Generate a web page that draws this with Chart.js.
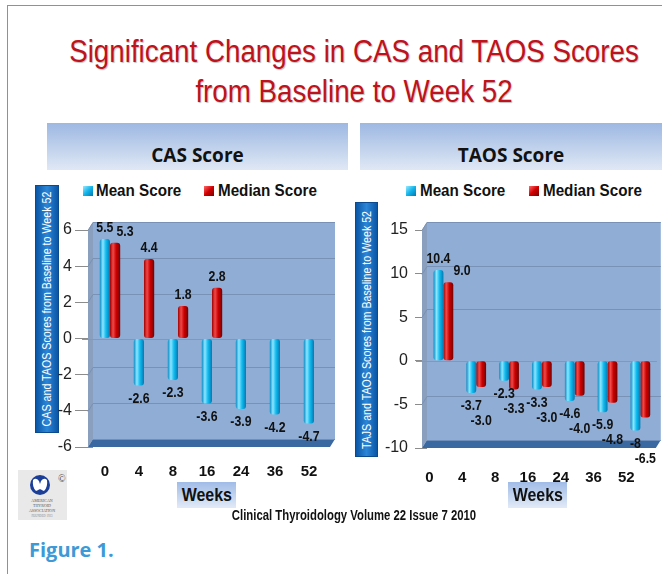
<!DOCTYPE html>
<html>
<head>
<meta charset="utf-8">
<script src="https://cdn.jsdelivr.net/npm/chart.js@4.4.0/dist/chart.umd.min.js"></script>
<style>
  body { margin: 0; width: 662px; height: 574px; background: #fff; position: relative; overflow: hidden;
         font-family: "Liberation Sans", Arial, sans-serif; }
  .frame { position: absolute; left: 7px; top: 5px; width: 720px; height: 620px;
           border-left: 1px solid #5b9fd6; border-top: 1px solid #5b9fd6; }
  .title { position: absolute; left: 0; top: 32px; width: 708px; text-align: center; color: #c0121c;
           font-size: 31px; line-height: 40px; transform: scaleX(0.895); transform-origin: 354px 0;
           text-shadow: 1px 1px 1px rgba(0,0,0,0.25); }
  .head { position: absolute; top: 123px; height: 47px; background: linear-gradient(#9db8e2, #e0e8f5);
          font-family: "Open Sans", sans-serif; font-weight: bold; font-size: 19px; color: #111;
          text-align: center; line-height: 20px; box-sizing: border-box; padding-top: 22px; }
  .ytitle { position: absolute; box-sizing: border-box; border: 1px solid #0b4a8e;
            background: linear-gradient(90deg, #0b56a6, #2b86d8 50%, #0b56a6); }
  .ytitle div { position: absolute; left: 50%; top: 50%; width: 320px; height: 20px; margin-left: -160px;
                margin-top: -10px; line-height: 20px; text-align: center; color: #fff; font-size: 13.5px;
                white-space: nowrap; transform: rotate(-90deg) scaleX(0.79); }
  .leg { position: absolute; top: 183px; font-weight: bold; font-size: 16px; line-height: 16px; color: #111;
         white-space: nowrap; transform: scaleX(0.95); transform-origin: 0 0; }
  .sq { position: absolute; top: 186px; width: 10px; height: 10px; }
  .sq.mean { background: linear-gradient(135deg, #9beaff, #12b4ea 50%, #0378b0); }
  .sq.median { background: linear-gradient(135deg, #ff6a6a, #d00000 50%, #7a0000); }
  .box { position: absolute; }
  .weeks { position: absolute; top: 482px; width: 59px; height: 26px; background: linear-gradient(#a0bce6, #e2eaf7); }
  .weeks span { display: block; font-weight: bold; font-size: 19px; line-height: 26px; text-align: center;
                color: #111; transform: scaleX(0.84); }
  .foot { position: absolute; left: 154px; width: 400px; top: 507px; text-align: center;
          font-weight: bold; font-size: 14px; color: #111; transform: scaleX(0.81); transform-origin: 200px 0; }
  .fig { position: absolute; left: 29px; top: 536px; font-family: "Open Sans", sans-serif; font-weight: bold;
         font-size: 20px; color: #3d9ad6; }
</style>
</head>
<body>
<div class="frame"></div>
<div class="title">Significant Changes in CAS and TAOS Scores<br>from Baseline to Week 52</div>

<div class="head" style="left:47px;width:301px;">CAS Score</div>
<div class="head" style="left:360px;width:302px;">TAOS Score</div>

<div class="ytitle" style="left:35px;top:185px;width:24px;height:248px;"><div>CAS and TAOS Scores from Baseline to Week 52</div></div>
<div class="ytitle" style="left:355px;top:202px;width:23px;height:255px;"><div>TAJS and TAOS Scores from Baseline to Week 52</div></div>

<div class="sq mean" style="left:83px;"></div><div class="leg" style="left:96px;">Mean Score</div>
<div class="sq median" style="left:204px;"></div><div class="leg" style="left:218px;">Median Score</div>
<div class="sq mean" style="left:406px;"></div><div class="leg" style="left:420px;">Mean Score</div>
<div class="sq median" style="left:529px;"></div><div class="leg" style="left:543px;">Median Score</div>

<div class="box" style="left:40px;top:210px;width:300px;height:290px;"><canvas id="cas"></canvas></div>
<div class="box" style="left:380px;top:210px;width:282px;height:290px;"><canvas id="taos"></canvas></div>

<div class="weeks" style="left:177px;"><span>Weeks</span></div>
<div class="weeks" style="left:508px;"><span>Weeks</span></div>

<svg style="position:absolute;left:18px;top:470px;" width="49" height="50" viewBox="0 0 49 50">
  <rect width="49" height="50" fill="#e9e9e9"/>
  <circle cx="22" cy="15" r="10" fill="#1b3f99"/>
  <path d="M15 10 Q18 7 21 11 L22 14 L23 11 Q26 7 29 10 Q30 17 26 21 Q22 19 22 19 Q22 19 18 21 Q14 17 15 10Z" fill="#fff"/>
  <text x="40" y="12" font-size="10" fill="#444" font-family="Liberation Serif">©</text>
  <text x="24" y="32" font-size="4" fill="#555" text-anchor="middle" font-family="Liberation Serif">AMERICAN</text>
  <text x="24" y="37" font-size="4" fill="#555" text-anchor="middle" font-family="Liberation Serif">THYROID</text>
  <text x="24" y="42" font-size="4" fill="#555" text-anchor="middle" font-family="Liberation Serif">ASSOCIATION</text>
  <text x="24" y="47" font-size="3" fill="#888" text-anchor="middle" font-family="Liberation Serif">FOUNDED 1923</text>
</svg>

<div class="foot">Clinical Thyroidology Volume 22 Issue 7 2010</div>
<div class="fig">Figure 1.</div>

<script>
const weeks = ["0", "4", "8", "16", "24", "36", "52"];

const casMean = [5.5, -2.6, -2.3, -3.6, -3.9, -4.2, -4.7];
const casMedian = [5.3, 4.4, 1.8, 2.8, null, null, null];
const casMeanText = ["5.5", "-2.6", "-2.3", "-3.6", "-3.9", "-4.2", "-4.7"];
const casMedianText = ["5.3", "4.4", "1.8", "2.8", "", "", ""];
const casAxis = [-6, 6, 2];

const taosMean = [10.4, -3.7, -2.3, -3.3, -4.6, -5.9, -8];
const taosMedian = [9.0, -3.0, -3.3, -3.0, -4.0, -4.8, -6.5];
const taosMeanText = ["10.4", "-3.7", "-2.3", "-3.3", "-4.6", "-5.9", "-8"];
const taosMedianText = ["9.0", "-3.0", "-3.3", "-3.0", "-4.0", "-4.8", "-6.5"];
const taosAxis = [-10, 15, 5];

const CAT_PCT = 0.6;

const cyanStops = ["#0a8cc4", "#8be6ff", "#10bcf0", "#0479b2"];
const redStops = ["#a00000", "#f04a4a", "#cc0000", "#760000"];

// horizontal gradient across each bar so it reads as a cylinder
function cylinder(stops) {
    return (c) => {
        const chart = c.chart;
        const xs = chart.scales.x;
        if (!chart.chartArea || !xs) return stops[2];
        const n = chart.data.labels.length;
        const bw = (xs.right - xs.left) / n * CAT_PCT / 2;
        const x0 = xs.getPixelForValue(c.dataIndex) - bw + c.datasetIndex * bw;
        const g = chart.ctx.createLinearGradient(x0, 0, x0 + bw, 0);
        g.addColorStop(0, stops[0]);
        g.addColorStop(0.3, stops[1]);
        g.addColorStop(0.6, stops[2]);
        g.addColorStop(1, stops[3]);
        return g;
    };
}

const walls = {
    id: "walls",
    beforeDatasetsDraw(chart) {
        const { ctx, chartArea: a, scales: { y } } = chart;
        const L = a.left, R = a.right, T = a.top, B = a.bottom, dx = 5, dy = 8;
        ctx.save();
        ctx.fillStyle = "#8fadd5";
        ctx.fillRect(L, T - dy, R + 4 - L, B - T);
        ctx.fillStyle = "#8a9fbd";
        ctx.beginPath();
        ctx.moveTo(L - dx, T); ctx.lineTo(L, T - dy); ctx.lineTo(L, B - dy); ctx.lineTo(L - dx, B);
        ctx.closePath(); ctx.fill();
        ctx.fillStyle = "#3a68a0";
        ctx.beginPath();
        ctx.moveTo(L - dx, B); ctx.lineTo(L, B - dy); ctx.lineTo(R + 4, B - dy); ctx.lineTo(R - 1, B);
        ctx.closePath(); ctx.fill();
        ctx.strokeStyle = "#6f8fbb"; ctx.lineWidth = 1;
        ctx.beginPath(); ctx.moveTo(L, B - dy + 0.5); ctx.lineTo(R + 4, B - dy + 0.5); ctx.stroke();
        ctx.strokeStyle = "#7891b4";
        y.ticks.forEach(t => {
            if (t.value === y.min || t.value === 0) return;
            const py = Math.round(y.getPixelForValue(t.value)) + 0.5;
            ctx.beginPath();
            ctx.moveTo(L - dx, py); ctx.lineTo(L, py - dy); ctx.lineTo(R + 4, py - dy);
            ctx.stroke();
        });
        const z = Math.round(y.getPixelForValue(0)) + 0.5;
        ctx.strokeStyle = "#8a97a6";
        ctx.beginPath(); ctx.moveTo(L - dx - 6, z); ctx.lineTo(R, z); ctx.stroke();
        ctx.restore();
    }
};

// value labels above / below the bar ends, nudged when they would collide
const valueLabels = {
    id: "valueLabels",
    afterDatasetsDraw(chart, args, opts) {
        const { ctx } = chart;
        const sx = 0.82, h = 14;
        ctx.save();
        ctx.font = "bold 15px 'Liberation Sans', sans-serif";
        ctx.fillStyle = "#111";
        ctx.textAlign = "center";
        ctx.textBaseline = "middle";
        const placed = [];
        chart.data.labels.forEach((_, i) => {
            chart.data.datasets.forEach((ds, di) => {
                const v = ds.data[i];
                if (v === null || v === undefined) return;
                const el = chart.getDatasetMeta(di).data[i];
                const txt = opts.texts[di][i];
                const w = ctx.measureText(txt).width * sx;
                let cx = el.x;
                let cy = v >= 0 ? el.y - 11 : el.y + 13;
                const hit = () => placed.find(p => Math.abs(p.x - cx) < (p.w + w) / 2 && Math.abs(p.y - cy) < h);
                let p;
                while ((p = hit())) {
                    if (v >= 0) cx = p.x + (p.w + w) / 2 + 3;
                    else cy = p.y + h + 1;
                }
                placed.push({ x: cx, y: cy, w });
                ctx.save();
                ctx.translate(cx, cy);
                ctx.scale(sx, 1);
                ctx.fillText(txt, 0, 0);
                ctx.restore();
            });
        });
        ctx.restore();
    }
};

function makeChart(id, mean, median, meanText, medianText, axis, g) {
    new Chart(document.getElementById(id), {
        type: "bar",
        data: {
            labels: weeks,
            datasets: [
                { label: "Mean Score", data: mean, backgroundColor: cylinder(cyanStops) },
                { label: "Median Score", data: median, backgroundColor: cylinder(redStops) },
            ],
        },
        options: {
            responsive: true,
            maintainAspectRatio: false,
            animation: false,
            layout: { padding: { left: 0, right: g.padRight, top: 20, bottom: g.padBottom } },
            datasets: {
                bar: { categoryPercentage: CAT_PCT, barPercentage: 1, borderRadius: 3, borderSkipped: false },
            },
            plugins: {
                legend: { display: false },
                tooltip: { enabled: false },
                valueLabels: { texts: [meanText, medianText] },
            },
            scales: {
                x: {
                    grid: { display: false },
                    border: { display: false },
                    ticks: {
                        padding: g.xPad, labelOffset: g.xShift, maxRotation: 0, autoSkip: false, color: "#111",
                        font: { family: "Liberation Sans", size: 15, weight: "bold" },
                    },
                    afterFit: s => { s.height = 40; },
                },
                y: {
                    min: axis[0], max: axis[1],
                    ticks: { stepSize: axis[2], padding: g.yPad, color: "#222",
                             font: { family: "Liberation Sans", size: 16 } },
                    grid: { drawOnChartArea: false, tickLength: g.tick, color: "#8c8c8c" },
                    border: { display: false },
                    afterFit: s => { s.width = g.yw; },
                },
            },
        },
        plugins: [walls, valueLabels],
    });
}

makeChart("cas", casMean, casMedian, casMeanText, casMedianText, casAxis,
    { yw: 53, padRight: 9, padBottom: 13, xPad: 8, xShift: -5, yPad: 3, tick: 18 });
makeChart("taos", taosMean, taosMedian, taosMeanText, taosMedianText, taosAxis,
    { yw: 47, padRight: 4, padBottom: 12, xPad: 13, xShift: -14, yPad: 7, tick: 12 });
</script>
</body>
</html>
